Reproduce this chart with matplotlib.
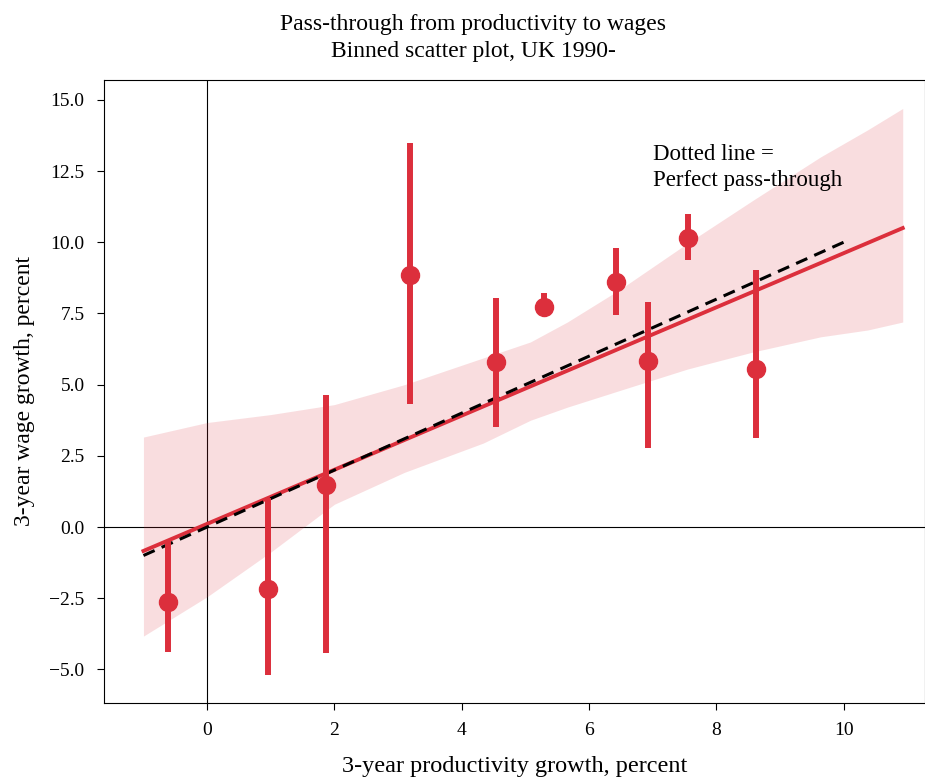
import numpy as np
import matplotlib
matplotlib.use("Agg")
import matplotlib.pyplot as plt

plt.rcParams['font.family'] = ['Liberation Serif', 'DejaVu Serif']

# binned means with 95% intervals
bin_x = [-0.61, 0.96, 1.87, 3.19, 4.54, 5.30, 6.43, 6.93, 7.55, 8.63]
bin_y = [-2.63, -2.18, 1.48, 8.85, 5.80, 7.73, 8.60, 5.83, 10.15, 5.55]
bin_lo = [-4.39, -5.20, -4.43, 4.32, 3.51, 7.55, 7.45, 2.77, 9.38, 3.13]
bin_hi = [-0.49, 1.02, 4.64, 13.49, 8.04, 8.22, 9.80, 7.90, 10.99, 9.03]

# fitted line
fit_x = [-1.0, 10.93]
fit_y = [-0.84, 10.50]

# confidence band
band_x = [-1.0, 0.0, 1.0, 2.0, 3.1, 4.34, 5.08, 5.66, 6.49, 7.55, 8.58, 9.64, 10.38, 10.93]
band_hi = [3.16, 3.67, 3.95, 4.30, 5.0, 5.94, 6.50, 7.20, 8.35, 9.97, 11.48, 13.0, 13.95, 14.7]
band_lo = [-3.83, -2.45, -0.88, 0.80, 1.92, 2.95, 3.75, 4.21, 4.80, 5.55, 6.15, 6.68, 6.92, 7.20]

red = '#dc2f3c'

fig = plt.figure(figsize=(9.25, 7.78), dpi=100)
ax = fig.add_axes([104 / 925, 1 - 703 / 778, 821 / 925, 623 / 778])

ax.axvline(0, color='black', lw=0.8, zorder=1)
ax.axhline(0, color='black', lw=0.8, zorder=1)

ax.fill_between(band_x, band_lo, band_hi, color=red, alpha=0.16, lw=0, zorder=2)
ax.plot(fit_x, fit_y, color=red, lw=2.8, zorder=3)
ax.plot([-1, 10], [-1, 10], color='black', ls='--', lw=2.2, dashes=(4, 2.5), zorder=4)

ax.vlines(bin_x, bin_lo, bin_hi, color=red, lw=4.3, zorder=5)
ax.plot(bin_x, bin_y, 'o', color=red, ms=13, zorder=6)

ax.text(7.0, 13.45, 'Dotted line =\nPerfect pass-through', fontsize=16.5,
        va='top', ha='left', linespacing=1.3)

ax.set_xlim(-1.62, 11.28)
ax.set_ylim(-6.18, 15.7)
ax.set_xticks([0, 2, 4, 6, 8, 10])
yt = np.arange(-5, 15.1, 2.5)
ax.set_yticks(yt)
ax.set_yticklabels([f'{v:.1f}'.replace('-', '\u2212') for v in yt])
ax.tick_params(labelsize=14, length=5)
ax.tick_params(axis='x', pad=9)
ax.tick_params(axis='y', pad=9)

ax.set_xlabel('3-year productivity growth, percent', fontsize=17.5, labelpad=12)
ax.set_ylabel('3-year wage growth, percent', fontsize=17, labelpad=10)

fig.text(473 / 925, 1 - 38 / 778, 'Pass-through from productivity to wages\nBinned scatter plot, UK 1990-',
         ha='center', va='center', fontsize=17, linespacing=1.35)

fig.savefig('out.png', dpi=100)
